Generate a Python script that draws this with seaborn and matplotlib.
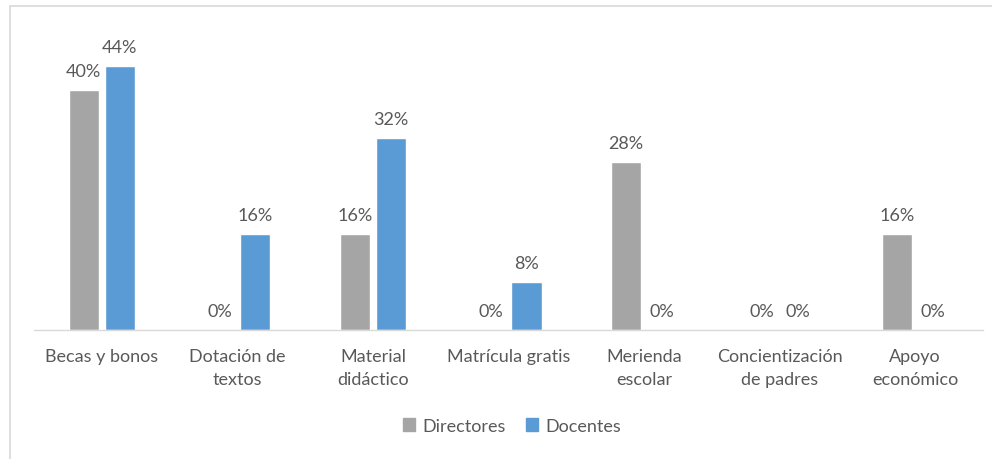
import pandas as pd
import numpy as np
import matplotlib.pyplot as plt
from matplotlib.lines import Line2D
import seaborn as sns

categories = ["Becas y bonos", "Dotación de\ntextos", "Material\ndidáctico", "Matrícula gratis",
              "Merienda\nescolar", "Concientización\nde padres", "Apoyo\neconómico"]
directores = [40, 0, 16, 0, 28, 0, 16]
docentes = [44, 16, 32, 8, 0, 0, 0]
series = ["Directores", "Docentes"]
colors = ["#A5A5A5", "#5B9BD5"]

df = pd.DataFrame({"categoria": categories * 2,
                   "grupo": ["Directores"] * 7 + ["Docentes"] * 7,
                   "valor": directores + docentes})

sns.set_style("white")
plt.rcParams["font.family"] = ["Lato", "DejaVu Sans"]
txt = "#595959"
fs = 13

fig = plt.figure(figsize=(9.92, 4.6), dpi=100)
ax = fig.add_axes([34 / 992, (460 - 331) / 460, (983 - 34) / 992, 300 / 460])

sns.barplot(data=df, x="categoria", y="valor", hue="grupo", palette=colors,
            width=0.53, gap=0.16, saturation=1, ax=ax, legend=False)

for cont in ax.containers:
    ax.bar_label(cont, labels=[f"{v:.0f}%" for v in cont.datavalues],
                 padding=8, color=txt, fontsize=fs)

ax.set_ylim(0, 50)
ax.set_xlim(-0.5, 6.5)
ax.set_xlabel("")
ax.set_ylabel("")
ax.set_yticks([])
ax.tick_params(axis="x", length=0, pad=13, labelsize=fs, labelcolor=txt)
for lab in ax.get_xticklabels():
    lab.set_linespacing(1.5)
for s in ["top", "right", "left"]:
    ax.spines[s].set_visible(False)
ax.spines["bottom"].set_color("#D9D9D9")
ax.spines["bottom"].set_linewidth(1)

handles = [plt.Rectangle((0, 0), 1, 1, color=c) for c in colors]
fig.legend(handles, series, loc="center", bbox_to_anchor=(512 / 992, 1 - 427 / 460), ncol=2,
           frameon=False, fontsize=fs, labelcolor=txt, handlelength=0.7, handleheight=0.7,
           handletextpad=0.4, columnspacing=1.1)

fig.add_artist(Line2D([9.5 / 992, 9.5 / 992], [0, 1 - 6.5 / 460], transform=fig.transFigure,
                      color="#D9D9D9", lw=1.2))
fig.add_artist(Line2D([9.5 / 992, 1], [1 - 6.5 / 460, 1 - 6.5 / 460], transform=fig.transFigure,
                      color="#D9D9D9", lw=1.2))

fig.savefig("out.png", dpi=100)
